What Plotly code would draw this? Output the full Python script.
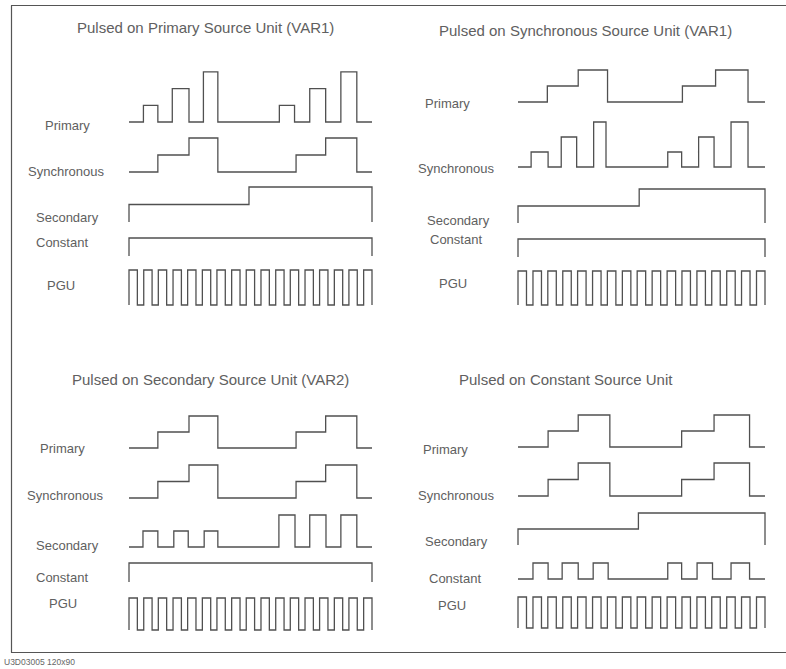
import plotly.graph_objects as go

W, H = 786, 669

# ------------------------------------------------------------------
# DATA  (time in sweep units 0..16, level = output step number)
# ------------------------------------------------------------------
TITLES = [
    "Pulsed on Primary Source Unit (VAR1)",
    "Pulsed on Synchronous Source Unit (VAR1)",
    "Pulsed on Secondary Source Unit (VAR2)",
    "Pulsed on Constant Source Unit",
]
ROW_LABELS = ["Primary", "Synchronous", "Secondary", "Constant", "PGU"]
FOOTER = "U3D03005 120x90"

# panel 1 : pulsed on primary
P1_PRIMARY_T = [0, 0.95, 1.9, 2.85, 3.95, 4.9, 5.85, 9.9, 10.9, 11.9, 12.95, 13.95, 15.0, 16]
P1_PRIMARY_V = [0, 1, 0, 2, 0, 3, 0, 1, 0, 2, 0, 3, 0, 0]
P1_SYNC_T = [0, 1.9, 3.95, 5.85, 11.0, 12.95, 15.0, 16]
P1_SYNC_V = [0, 1, 2, 0, 1, 2, 0, 0]
P1_SECOND_T = [0, 0, 7.9, 16, 16]
P1_SECOND_V = [0, 1, 2, 2, 0]
P1_CONST_T = [0, 0, 16, 16]
P1_CONST_V = [0, 1, 1, 0]

# panel 2 : pulsed on synchronous
P2_PRIMARY_T = [0, 1.9, 3.9, 5.8, 10.65, 12.8, 14.9, 16]
P2_PRIMARY_V = [0, 1, 2, 0, 1, 2, 0, 0]
P2_SYNC_T = [0, 0.85, 1.95, 2.8, 3.8, 4.9, 5.7, 9.7, 10.6, 11.7, 12.7, 13.8, 14.9, 16]
P2_SYNC_V = [0, 1, 0, 2, 0, 3, 0, 1, 0, 2, 0, 3, 0, 0]
P2_SECOND_T = [0, 0, 7.85, 16, 16]
P2_SECOND_V = [0, 1, 2, 2, 0]
P2_CONST_T = [0, 0, 16, 16]
P2_CONST_V = [0, 1, 1, 0]

# panel 3 : pulsed on secondary
P3_PRIMARY_T = [0, 1.9, 3.95, 5.85, 11.0, 12.95, 15.0, 16]
P3_PRIMARY_V = [0, 1, 2, 0, 1, 2, 0, 0]
P3_SYNC_T = [0, 1.9, 3.95, 5.85, 11.0, 12.95, 15.0, 16]
P3_SYNC_V = [0, 1, 2, 0, 1, 2, 0, 0]
P3_SECOND_T = [0, 0.92, 1.9, 2.95, 3.9, 4.95, 5.85, 9.87, 10.93, 11.9, 12.97, 13.95, 15.0, 16]
P3_SECOND_V = [0, 1, 0, 1, 0, 1, 0, 2, 0, 2, 0, 2, 0, 0]
P3_CONST_T = [0, 0, 16, 16]
P3_CONST_V = [0, 1, 1, 0]

# panel 4 : pulsed on constant
P4_PRIMARY_T = [0, 1.95, 3.9, 5.95, 10.6, 12.7, 15.0, 16]
P4_PRIMARY_V = [0, 1, 2, 0, 1, 2, 0, 0]
P4_SYNC_T = [0, 1.95, 3.9, 5.95, 10.6, 12.7, 15.0, 16]
P4_SYNC_V = [0, 1, 2, 0, 1, 2, 0, 0]
P4_SECOND_T = [0, 0, 7.8, 16, 16]
P4_SECOND_V = [0, 1, 2, 2, 0]
P4_CONST_T = [0, 0.97, 1.95, 2.86, 3.9, 4.87, 5.84, 9.7, 10.6, 11.6, 12.6, 13.8, 15.0, 16]
P4_CONST_V = [0, 1, 0, 1, 0, 1, 0, 1, 0, 1, 0, 1, 0, 0]

# PGU pulse train (rising-edge times, pulse width)
PGU_RISE = [0.0, 0.97, 1.93, 2.90, 3.86, 4.83, 5.79, 6.76, 7.72, 8.69,
            9.66, 10.62, 11.59, 12.55, 13.52, 14.48, 15.45]
PGU_WIDTH = 0.55

# ------------------------------------------------------------------
# LAYOUT (pixel geometry of the scanned sheet)
# ------------------------------------------------------------------
LINE_COLOR = "#505050"
TEXT_COLOR = "#606060"
FONT = "Liberation Sans, Arial, sans-serif"

# column horizontal extents of the sweep (px)
COLS = {"x": (129, 372), "x2": (518, 765)}

def pgu_series():
    t, v = [0.0], [0]
    for r in PGU_RISE:
        t += [r, r + PGU_WIDTH]
        v += [1, 0]
    return t, v

PGU_T, PGU_V = pgu_series()

# each panel: xaxis, title (cx, cy), rows: (t, v, base_px, px_per_level, maxlev, label_cx, label_cy)
PANELS = [
    ("x", (205, 27), [
        (P1_PRIMARY_T, P1_PRIMARY_V, 122, 16.7, 3, 67, 125),
        (P1_SYNC_T, P1_SYNC_V, 172, 17, 2, 66, 172),
        (P1_SECOND_T, P1_SECOND_V, 222, 17.5, 2, 67, 217),
        (P1_CONST_T, P1_CONST_V, 256, 18, 1, 62, 243),
        (PGU_T, PGU_V, 305, 35, 1, 61, 285),
    ]),
    ("x2", (585, 30), [
        (P2_PRIMARY_T, P2_PRIMARY_V, 102, 16, 2, 447, 104),
        (P2_SYNC_T, P2_SYNC_V, 167, 15, 3, 456, 168),
        (P2_SECOND_T, P2_SECOND_V, 223, 17, 2, 458, 220),
        (P2_CONST_T, P2_CONST_V, 257, 18, 1, 456, 240),
        (PGU_T, PGU_V, 305, 34, 1, 453, 283),
    ]),
    ("x", (210, 379), [
        (P3_PRIMARY_T, P3_PRIMARY_V, 448, 16, 2, 62, 448),
        (P3_SYNC_T, P3_SYNC_V, 498, 16.5, 2, 65, 495),
        (P3_SECOND_T, P3_SECOND_V, 547, 16, 2, 67, 545),
        (P3_CONST_T, P3_CONST_V, 582, 19, 1, 62, 577),
        (PGU_T, PGU_V, 630, 32, 1, 63, 603),
    ]),
    ("x2", (566, 379), [
        (P4_PRIMARY_T, P4_PRIMARY_V, 447, 16, 2, 445, 449),
        (P4_SYNC_T, P4_SYNC_V, 496, 16.5, 2, 456, 495),
        (P4_SECOND_T, P4_SECOND_V, 545, 16, 2, 457, 541),
        (P4_CONST_T, P4_CONST_V, 579, 16, 1, 455, 578),
        (PGU_T, PGU_V, 628, 31, 1, 452, 605),
    ]),
]

PAD = 0.3  # padding (in data units) so edge lines are not clipped

fig = go.Figure()
layout = dict(
    width=W, height=H,
    margin=dict(l=0, r=0, t=0, b=0),
    paper_bgcolor="white", plot_bgcolor="rgba(0,0,0,0)",
    showlegend=False,
)

for xa, (x0, x1) in COLS.items():
    unit = (x1 - x0) / 16.0
    key = "xaxis" if xa == "x" else "xaxis2"
    layout[key] = dict(
        domain=[(x0 - PAD * unit) / W, (x1 + PAD * unit) / W],
        range=[-PAD, 16 + PAD], visible=False, fixedrange=True,
    )

annotations = []
yi = 0
for pi, (xa, (tcx, tcy), rows) in enumerate(PANELS):
    annotations.append(dict(
        x=tcx / W, y=1 - tcy / H, xref="paper", yref="paper",
        text=TITLES[pi],
        showarrow=False, xanchor="center", yanchor="middle",
        font=dict(family=FONT, size=15, color=TEXT_COLOR),
    ))
    for ri, (t, v, base, ppl, maxlev, lcx, lcy) in enumerate(rows):
        yi += 1
        yname = "y" if yi == 1 else f"y{yi}"
        ykey = "yaxis" if yi == 1 else f"yaxis{yi}"
        lo_px = base + PAD * ppl
        hi_px = base - (maxlev + PAD) * ppl
        layout[ykey] = dict(
            domain=[1 - lo_px / H, 1 - hi_px / H],
            range=[-PAD, maxlev + PAD], visible=False, fixedrange=True,
            anchor=xa,
        )
        fig.add_trace(go.Scatter(
            x=t, y=v, mode="lines", line_shape="hv",
            line=dict(color=LINE_COLOR, width=1.3),
            xaxis=xa, yaxis=yname, hoverinfo="skip",
        ))
        annotations.append(dict(
            x=lcx / W, y=1 - lcy / H, xref="paper", yref="paper",
            text=ROW_LABELS[ri], showarrow=False,
            xanchor="center", yanchor="middle",
            font=dict(family=FONT, size=13, color=TEXT_COLOR),
        ))

annotations.append(dict(
    x=2 / W, y=1 - 662 / H, xref="paper", yref="paper", text=FOOTER,
    showarrow=False, xanchor="left", yanchor="middle",
    font=dict(family=FONT, size=8.5, color="#666"),
))

frame = dict(type="line", xref="paper", yref="paper",
             line=dict(color="#555", width=1.2))
shapes = [
    dict(frame, x0=11.5 / W, x1=11.5 / W, y0=1 - 5.5 / H, y1=1 - 652.5 / H),
    dict(frame, x0=11 / W, x1=1.0, y0=1 - 5.5 / H, y1=1 - 5.5 / H),
    dict(frame, x0=11 / W, x1=1.0, y0=1 - 652.5 / H, y1=1 - 652.5 / H),
]

layout["annotations"] = annotations
layout["shapes"] = shapes
fig.update_layout(**layout)

fig.write_html(
    "out.html",
    config={"displayModeBar": False, "staticPlot": True},
    post_script="document.body.style.margin='0';document.body.style.overflow='hidden';",
)
